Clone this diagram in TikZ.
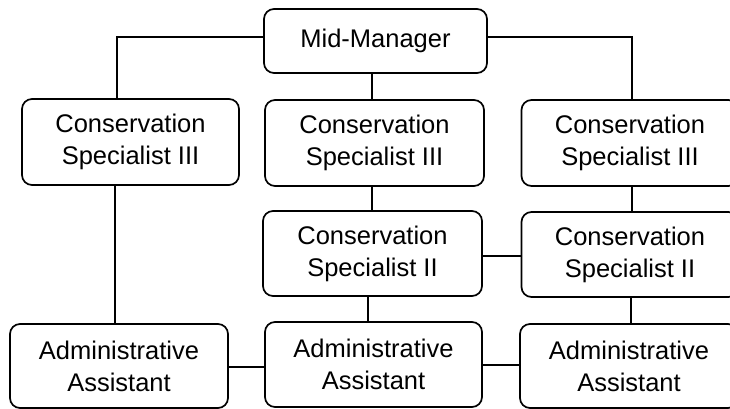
\documentclass[tikz,border=0pt]{standalone}
\usepackage{fontspec}
\setmainfont{Liberation Sans}
\begin{document}
\begin{tikzpicture}[x=1pt,y=-1pt,
  box/.style={draw=black,line width=1.7pt,rounded corners=10pt,fill=white,
    align=center,font=\fontsize{25.5}{32}\selectfont,inner sep=0pt},
  link/.style={draw=black,line width=1.7pt}]
\useasboundingbox (0,0) rectangle (730,409);
\clip (0,0) rectangle (730,409);
\fill[white] (0,0) rectangle (730,409);
\node[box,minimum width=223pt,minimum height=64pt] (MM) at (375.5,41) {Mid-Manager};
\node[box,minimum width=217pt,minimum height=86pt] (CS3L) at (130.5,142) {Conservation\\Specialist III};
\node[box,minimum width=219pt,minimum height=86pt] (CS3M) at (374.5,143) {Conservation\\Specialist III};
\node[box,minimum width=217pt,minimum height=86pt] (CS3R) at (630,143) {Conservation\\Specialist III};
\node[box,minimum width=219pt,minimum height=85pt] (CS2M) at (372.5,253.5) {Conservation\\Specialist II};
\node[box,minimum width=217pt,minimum height=85pt] (CS2R) at (630,254.5) {Conservation\\Specialist II};
\node[box,minimum width=218pt,minimum height=84pt] (AAL) at (119,366) {Administrative\\Assistant};
\node[box,minimum width=217pt,minimum height=85pt] (AAM) at (373.5,364.5) {Administrative\\Assistant};
\node[box,minimum width=218pt,minimum height=84pt] (AAR) at (629,366) {Administrative\\Assistant};
\draw[link] ([yshift=4pt]MM.west) -| ([xshift=-13.5pt]CS3L.north);
\draw[link] ([yshift=4pt]MM.east) -| ([xshift=2pt]CS3R.north);
\draw[link] ([xshift=-3.5pt]MM.south) -- ([xshift=-3.5pt]MM.south |- CS3M.north);
\draw[link] ([xshift=-15.5pt]CS3L.south) -- ([xshift=-15.5pt]CS3L.south |- AAL.north);
\draw[link] ([xshift=-2.5pt]CS3M.south) -- ([xshift=-2.5pt]CS3M.south |- CS2M.north);
\draw[link] ([xshift=2pt]CS3R.south) -- ([xshift=2pt]CS3R.south |- CS2R.north);
\draw[link] ([yshift=-2.5pt]CS2M.east) -- ([yshift=-2.5pt]CS2M.east -| CS2R.west);
\draw[link] ([xshift=-4.5pt]CS2M.south) -- ([xshift=-4.5pt]CS2M.south |- AAM.north);
\draw[link] ([xshift=1pt]CS2R.south) -- ([xshift=1pt]CS2R.south |- AAR.north);
\draw[link] ([yshift=-1pt]AAL.east) -- ([yshift=-1pt]AAL.east -| AAM.west);
\draw[link] ([yshift=-0.5pt]AAM.east) -- ([yshift=-0.5pt]AAM.east -| AAR.west);
\end{tikzpicture}
\end{document}
